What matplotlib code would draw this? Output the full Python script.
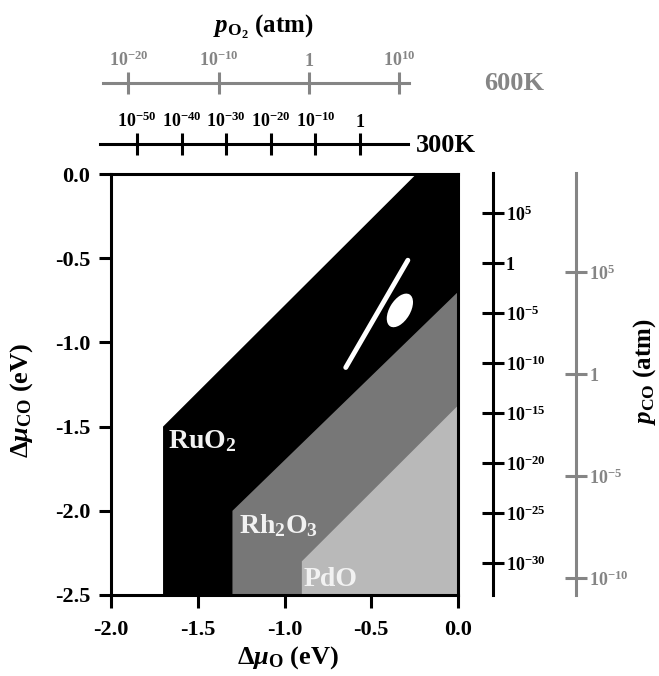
"""CO/O2 surface phase diagram: RuO2, Rh2O3, PdO stability regions with pressure scales."""

import matplotlib

matplotlib.use("Agg")
import matplotlib.pyplot as plt
from matplotlib.patches import Ellipse, Polygon

W, H = 659, 676

plt.rcParams.update(
    {
        "font.family": "Liberation Serif",
        "font.weight": "bold",
        "mathtext.fontset": "custom",
        "mathtext.rm": "Liberation Serif:bold",
        "mathtext.it": "Liberation Serif:italic:bold",
        "mathtext.bf": "Liberation Serif:bold",
        "mathtext.sf": "Liberation Serif",
        "axes.unicode_minus": False,
    }
)

# oxide stability regions (Δμ_O, Δμ_CO) in eV
RUO2_X = [-1.7, -1.7, -0.24, 0.0, 0.0]
RUO2_Y = [-2.5, -1.5, 0.0, 0.0, -2.5]
RH2O3_X = [-1.3, -1.3, 0.0, 0.0]
RH2O3_Y = [-2.5, -2.0, -0.7, -2.5]
PDO_X = [-0.9, -0.9, 0.0, 0.0]
PDO_Y = [-2.5, -2.3, -1.375, -2.5]
REGION_LABELS = ["RuO$_2$", "Rh$_2$O$_3$", "PdO"]
REGION_LABEL_X = [-1.67, -1.265, -0.89]
REGION_LABEL_Y = [-1.625, -2.13, -2.445]
REGION_COLORS = ["#000000", "#777777", "#b9b9b9"]

# white marks inside RuO2 region
MARK_LINE_X = [-0.647, -0.289]
MARK_LINE_Y = [-1.149, -0.512]
MARK_ELLIPSE_CENTER = (-0.335, -0.81)

MAIN_XTICKS = [-2.0, -1.5, -1.0, -0.5, 0.0]
MAIN_YTICKS = [0.0, -0.5, -1.0, -1.5, -2.0, -2.5]

# pressure scales, positions in log10(p/atm)
PO2_600_TICKS = [-20, -10, 0, 10]
PO2_600_LABELS = [r"$\mathsf{10^{-20}}$", r"$\mathsf{10^{-10}}$", r"$\mathsf{1}$", r"$\mathsf{10^{10}}$"]
PO2_300_TICKS = [-50, -40, -30, -20, -10, 0]
PO2_300_LABELS = [r"$10^{-50}$", r"$10^{-40}$", r"$10^{-30}$", r"$10^{-20}$", r"$10^{-10}$", "1"]
PCO_300_TICKS = [5, 0, -5, -10, -15, -20, -25, -30]
PCO_300_LABELS = [r"$10^{5}$", "1", r"$10^{-5}$", r"$10^{-10}$", r"$10^{-15}$",
                  r"$10^{-20}$", r"$10^{-25}$", r"$10^{-30}$"]
PCO_600_TICKS = [5, 0, -5, -10]
PCO_600_LABELS = [r"$\mathsf{10^{5}}$", r"$\mathsf{1}$", r"$\mathsf{10^{-5}}$", r"$\mathsf{10^{-10}}$"]

GRAY = "#858585"


def fx(px):
    return px / W


def fy(py):
    return 1 - py / H


def scale_axis(fig, rect, lim, ticks, labels, color, horizontal):
    """A bare single-line axis with ticks crossing the line."""
    sax = fig.add_axes(rect)
    sax.set_facecolor("none")
    for side in ("left", "right", "top", "bottom"):
        sax.spines[side].set_visible(False)
    side = "top" if horizontal else "right"
    sax.spines[side].set_visible(True)
    sax.spines[side].set_color(color)
    sax.spines[side].set_linewidth(2.2)
    if horizontal:
        sax.set_xlim(*lim)
        sax.set_yticks([])
        sax.xaxis.set_ticks_position("top")
        sax.set_xticks(ticks, labels)
        which = "x"
    else:
        sax.set_ylim(*lim)
        sax.set_xticks([])
        sax.yaxis.set_ticks_position("right")
        sax.set_yticks(ticks, labels)
        which = "y"
    sax.tick_params(axis=which, direction="inout", length=16, width=2.2, color=color,
                    labelcolor=color, labelsize=13, pad=1)
    return sax


def main():
    fig = plt.figure(figsize=(W / 100, H / 100), dpi=100)
    ax = fig.add_axes([fx(111), fy(595), (458 - 111) / W, (595 - 174) / H])

    regions = [(RUO2_X, RUO2_Y), (RH2O3_X, RH2O3_Y), (PDO_X, PDO_Y)]
    for (xs, ys), color in zip(regions, REGION_COLORS):
        ax.add_patch(Polygon(list(zip(xs, ys)), closed=True, facecolor=color, edgecolor="none"))
    for label, lx, ly in zip(REGION_LABELS, REGION_LABEL_X, REGION_LABEL_Y):
        ax.text(lx, ly, label, color="#f2f2f2", fontsize=20, ha="left", va="baseline")

    ax.plot(MARK_LINE_X, MARK_LINE_Y, color="white", linewidth=3.5, solid_capstyle="round")
    ax.add_patch(Ellipse(MARK_ELLIPSE_CENTER, 0.22, 0.12, angle=60, facecolor="white", edgecolor="none"))

    ax.set_xlim(-2.0, 0.0)
    ax.set_ylim(-2.5, 0.0)
    ax.set_xticks(MAIN_XTICKS, [f"{v:.1f}" for v in MAIN_XTICKS])
    ax.set_yticks(MAIN_YTICKS, [f"{v:.1f}" for v in MAIN_YTICKS])
    ax.tick_params(direction="out", length=9, width=2.2, labelsize=16)
    ax.tick_params(axis="x", pad=9)
    ax.tick_params(axis="y", pad=6)
    for spine in ax.spines.values():
        spine.set_linewidth(2.2)

    fig.text(fx(288), fy(658), r"$\mathit{\Delta\mu}_{\mathrm{O}}$ (eV)", fontsize=19,
             ha="center", va="center")
    fig.text(fx(22), fy(400), r"$\mathit{\Delta\mu}_{\mathrm{CO}}$ (eV)", fontsize=19,
             ha="center", va="center", rotation=90)

    # oxygen pressure scales on top
    tiny = 1e-5
    scale_axis(fig, [fx(103), fy(83), (409 - 103) / W, tiny], (-22.8, 11.1),
               PO2_600_TICKS, PO2_600_LABELS, GRAY, True)
    scale_axis(fig, [fx(100), fy(144), (408 - 100) / W, tiny], (-58.3, 10.8),
               PO2_300_TICKS, PO2_300_LABELS, "black", True)
    fig.text(fx(263), fy(27), r"$p_{\mathrm{O}_2}$ (atm)", fontsize=18, ha="center", va="center")
    fig.text(fx(484), fy(84), "600K", fontsize=19, color=GRAY, ha="left", va="center")
    fig.text(fx(416), fy(145), "300K", fontsize=19, color="black", ha="left", va="center")

    # CO pressure scales on the right
    scale_axis(fig, [fx(493), fy(595), tiny, (595 - 173) / H], (-33.2, 9.0),
               PCO_300_TICKS, PCO_300_LABELS, "black", False)
    scale_axis(fig, [fx(576), fy(595), tiny, (595 - 173) / H], (-10.83, 9.85),
               PCO_600_TICKS, PCO_600_LABELS, GRAY, False)
    fig.text(fx(645), fy(372), r"$p_{\mathrm{CO}}$ (atm)", fontsize=18, ha="center", va="center",
             rotation=90)

    fig.savefig("out.png", dpi=100)
    plt.close(fig)


if __name__ == "__main__":
    main()
